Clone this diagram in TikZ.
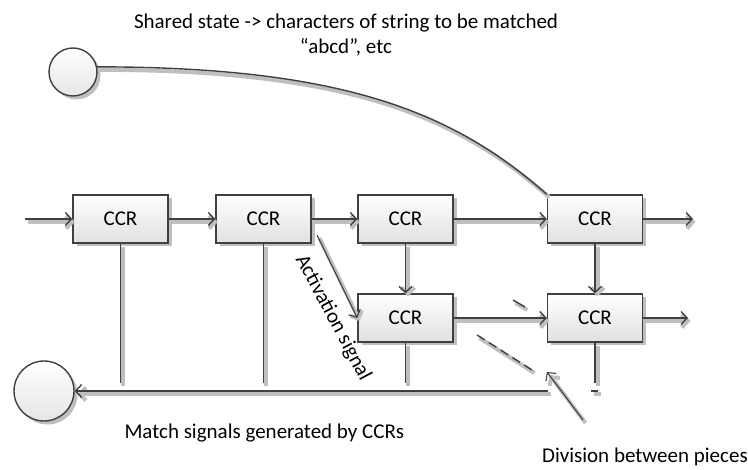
\documentclass[tikz,border=0pt]{standalone}
\usepackage{fontspec}
\setmainfont{Carlito}
\usetikzlibrary{arrows.meta, shadows}

\tikzset{
  ccr/.style={draw=black!75, line width=1.4pt, minimum width=95, minimum height=48,
    inner sep=0pt, top color=white, bottom color=black!12,
    drop shadow={shadow xshift=3.5pt, shadow yshift=-3.5pt, fill=black!25, opacity=1}},
  state/.style={circle, draw=black!75, line width=1.4pt, inner sep=0pt,
    top color=white, bottom color=black!10,
    drop shadow={shadow xshift=3.5pt, shadow yshift=-3.5pt, fill=black!25, opacity=1}},
  lineshade/.style={draw=black!25, line width=4pt, transform canvas={xshift=2.5pt, yshift=-3pt}},
  wire/.style={draw=black!75, line width=1.4pt, preaction={lineshade}},
  sig/.style={wire, -{Straight Barb[length=6pt, width=13pt]}},
}

\begin{document}
\begin{tikzpicture}[x=1pt, y=-1pt, font=\fontsize{21}{25}\selectfont]
  \useasboundingbox (0,0) rectangle (748,470);

  % shared state and match collector
  \node[state, minimum size=48] (shared) at (73,72) {};
  \node[state, minimum size=60] (match) at (44,391) {};

  % CCR chain
  \node[ccr] (c1) at (120.5,219) {CCR};
  \node[ccr] (c2) at (263.5,219) {CCR};
  \node[ccr] (c3) at (405.5,219) {CCR};
  \node[ccr] (c4) at (595,219) {CCR};
  \node[ccr] (c5) at (405.5,318) {CCR};
  \node[ccr] (c6) at (595,318) {CCR};

  \coordinate (in) at (25,219);
  \coordinate (out1) at (693,219);
  \coordinate (out2) at (688,318);
  \coordinate (act) at (317,235);
  \coordinate (bus) at (548,391);
  \coordinate (drop) at (0,383);
  \coordinate (cut1) at (477,335);
  \coordinate (cut2) at (532,370);
  \coordinate (divtail) at (583,420);
  \coordinate (divtip) at (547,372);

  \draw[sig] (in) -- (c1);
  \draw[sig] (c1) -- (c2);
  \draw[sig] (c2) -- (c3);
  \draw[sig] (c3) -- (c4);
  \draw[sig] (c4) -- (out1);
  \draw[sig] (c3) -- (c5);
  \draw[sig] (c4) -- (c6);
  \draw[sig] (c5) -- (c6);
  \draw[sig] (c6) -- (out2);

  % shared state feed
  \draw[wire] (shared.12) .. controls +(253,0) and +(-90,-79) .. (c4.north west);

  % activation
  \draw[sig, line width=1.1pt] (act) -- (c5.west);
  \node[rotate=-62, inner sep=0pt] (actlabel) at (333,318) {Activation signal};

  % match signals
  \foreach \c in {c1,c2,c5,c6}
    \draw[wire] (\c.south) -- (\c.south |- drop);
  \draw[sig] (bus) -- (match);
  \draw[wire] (591,391) -- (598,391);

  % division
  \draw[wire, dashed, dash pattern=on 9pt off 5pt] (cut1) -- (cut2);
  \draw[wire] (513,300) -- (525,307);
  \draw[sig, line width=1.1pt] (divtail) -- (divtip);

  % labels
  \node[align=center] (sharedlabel) at (346,35)
    {Shared state -> characters of string to be matched\\“abcd”, etc};
  \node[anchor=west] (matchlabel) at (121,433) {Match signals generated by CCRs};
  \node[anchor=east, inner sep=0pt] (divlabel) at (748,457) {Division between pieces};
\end{tikzpicture}
\end{document}
